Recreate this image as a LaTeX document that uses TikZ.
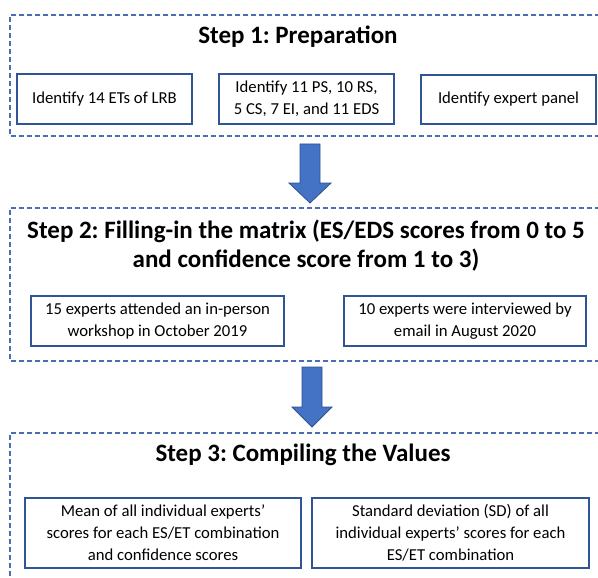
\documentclass[tikz,border=0pt]{standalone}
\usepackage{fontspec}
\setmainfont{Carlito}
\frenchspacing
\definecolor{framec}{HTML}{4A6DB3}
\definecolor{boxc}{HTML}{2F5597}
\definecolor{arrowfill}{HTML}{4472C4}
\definecolor{arrowline}{HTML}{2F528F}
\begin{document}
\begin{tikzpicture}[x=1pt,y=-1pt,
  frame/.style={draw=framec,line width=1.5pt,dash pattern=on 5pt off 3pt},
  stepbox/.style={draw=boxc,line width=1.8pt,inner sep=0pt,align=center,
    font=\fontsize{16.7}{22}\selectfont\frenchspacing},
  steptitle/.style={inner sep=0pt,align=center,font=\fontsize{25}{29}\selectfont\bfseries\frenchspacing},
  blockarrow/.style={fill=arrowfill,draw=arrowline,line width=0.8pt,line join=miter}]
\useasboundingbox (0,0) rectangle (598,578);
% frames
\draw[frame] (600,15) -- (10,15) -- (10,136) -- (600,136);
\draw[frame] (600,208) -- (10,208) -- (10,361) -- (600,361);
\draw[frame] (600,433) -- (10,433) -- (10,582);
% titles
\node[steptitle] (t1) at (298,37) {Step 1: Preparation};
\node[steptitle] (t2) at (306,246) {Step 2: Filling-in the matrix (ES/EDS scores from 0 to 5\\and confidence score from 1 to 3)};
\node[steptitle] (t3) at (303,455) {Step 3: Compiling the Values};
% step 1 boxes
\node[stepbox,minimum width=175pt,minimum height=50pt] (b11) at (104.5,99) {Identify 14 ETs of LRB};
\node[stepbox,minimum width=175pt,minimum height=50pt] (b12) at (306.5,99) {Identify 11 PS, 10 RS,\\5 CS, 7 EI, and 11 EDS};
\node[stepbox,minimum width=175pt,minimum height=49pt] (b13) at (508.5,99.5) {Identify expert panel};
% step 2 boxes
\node[stepbox,minimum width=253pt,minimum height=50pt] (b21) at (157.5,321) {15 experts attended an in-person\\workshop in October 2019};
\node[stepbox,minimum width=242pt,minimum height=50pt] (b22) at (465,321) {10 experts were interviewed by\\email in August 2020};
% step 3 boxes
\node[stepbox,minimum width=276pt,minimum height=70pt] (b31) at (163,533) {Mean of all individual experts'\\scores for each ES/ET combination\\and confidence scores};
\node[stepbox,minimum width=277pt,minimum height=70pt] (b32) at (450.5,533) {Standard deviation (SD) of all\\individual experts' scores for each\\ES/ET combination};
% block arrows
\coordinate (a1) at (310,144);
\coordinate (a2) at (312,367);
\draw[blockarrow] (a1) ++(-10,0) -- ++(20,0) -- ++(0,39) -- ++(11,0) -- (310,203) -- (289,183) -- (300,183) -- cycle;
\draw[blockarrow] (a2) ++(-10,0) -- ++(20,0) -- ++(0,40) -- ++(10,0) -- (312,427) -- (292,407) -- (302,407) -- cycle;
\end{tikzpicture}
\end{document}
